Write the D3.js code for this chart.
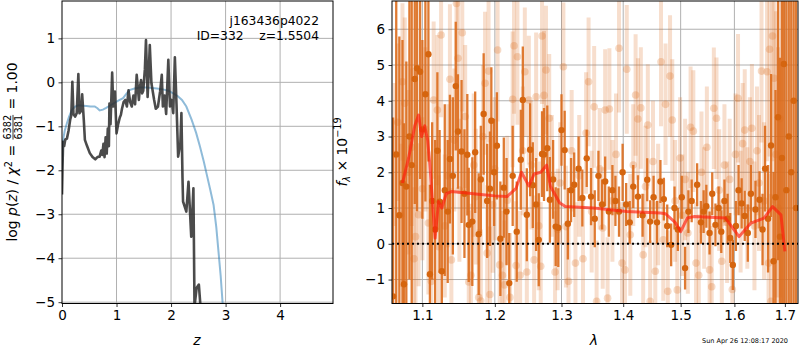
<!DOCTYPE html>
<html>
<head>
<meta charset="utf-8">
<script src="https://cdn.jsdelivr.net/npm/d3@7"></script>
<style>
  body { margin: 0; background: #fff; }
  text { font-family: "DejaVu Sans", sans-serif; }
</style>
</head>
<body>
<div id="chart"></div>
<script>
// p(z) panel data
var zGrid = [0.00, 0.01, 0.02, 0.04, 0.06, 0.09, 0.12, 0.15, 0.17, 0.19, 0.21, 0.24, 0.27, 0.30, 0.32, 0.35, 0.37, 0.40, 0.42, 0.46,
  0.51, 0.56, 0.61, 0.65, 0.69, 0.72, 0.74, 0.76, 0.78, 0.80, 0.82, 0.84, 0.86, 0.87, 0.89, 0.92, 0.94, 0.97, 1.00, 1.03,
  1.06, 1.08, 1.10, 1.13, 1.16, 1.19, 1.22, 1.25, 1.28, 1.31, 1.34, 1.37, 1.41, 1.43, 1.45, 1.47, 1.49, 1.52, 1.54, 1.57,
  1.59, 1.61, 1.64, 1.69, 1.72, 1.76, 1.80, 1.83, 1.85, 1.88, 1.91, 1.95, 1.98, 2.01, 2.04, 2.07, 2.10, 2.13, 2.17, 2.19,
  2.21, 2.22, 2.28, 2.32, 2.37, 2.41, 2.43, 2.47, 2.51, 2.54];
var logPz = [-2.55, -1.9, -1.35, -1.45, -1.30, -1.28, -1.10, -0.85, -0.75, 0.01, -0.72, -0.78, -0.70, 0.19, -0.70, -0.65, -0.27, -0.86, -1.31, -1.45,
  -1.61, -1.70, -1.75, -1.70, -1.69, -1.55, -1.65, -1.40, -1.70, -1.25, -1.62, -1.05, -1.45, -0.48, -0.95, 0.22, -0.55, -0.21, -1.16, -0.95,
  -0.80, -0.74, -0.60, -0.45, -0.40, -0.55, -0.18, -0.45, -0.55, -0.30, -0.50, 0.17, -0.40, -0.10, 0.05, -0.25, -0.19, 0.30, 0.96, -0.33,
  0.20, 0.85, -0.02, -0.40, -0.60, -0.55, -0.20, 0.17, -0.55, -0.30, -0.72, 0.51, -0.55, -0.40, -0.70, 0.57, -0.50, -1.69, -1.40, -0.70,
  -2.18, -2.71, -2.94, -2.26, -3.51, -2.41, -5.1, -4.67, -4.6, -5.1];

var zPrior = [0.00, 0.02, 0.05, 0.09, 0.13, 0.18, 0.24, 0.30, 0.38, 0.45, 0.52, 0.60, 0.65, 0.69, 0.75, 0.81, 0.88, 0.96, 1.04, 1.12,
  1.20, 1.25, 1.33, 1.43, 1.55, 1.65, 1.74, 1.85, 1.95, 2.04, 2.12, 2.20, 2.28, 2.38, 2.46, 2.53, 2.60, 2.65, 2.72, 2.78, 2.83, 2.87, 2.91, 2.95];
var logPrior = [-2.0, -1.31, -1.10, -0.93, -0.78, -0.63, -0.55, -0.52, -0.53, -0.54, -0.55, -0.55, -0.59, -0.64, -0.62, -0.58, -0.53, -0.47, -0.41, -0.36,
  -0.23, -0.17, -0.14, -0.12, -0.12, -0.13, -0.14, -0.16, -0.19, -0.25, -0.31, -0.40, -0.55, -0.86, -1.15, -1.46, -1.80, -2.07, -2.45, -2.79, -3.30, -3.85, -4.40, -5.1];

var pzXTicks = [0, 1, 2, 3, 4];
var pzYTicks = [-5, -4, -3, -2, -1, 0, 1];

// spectrum panel data
var waveBin = [1.062, 1.066, 1.070, 1.074, 1.076, 1.079, 1.083, 1.086, 1.090, 1.093, 1.097, 1.100, 1.104, 1.108, 1.110, 1.113, 1.117, 1.120, 1.123, 1.126,
  1.130, 1.134, 1.137, 1.141, 1.145, 1.148, 1.153, 1.157, 1.161, 1.163, 1.168, 1.172, 1.177, 1.180, 1.184, 1.189, 1.193, 1.195, 1.199, 1.203,
  1.208, 1.213, 1.217, 1.221, 1.226, 1.232, 1.238, 1.241, 1.247, 1.252, 1.256, 1.261, 1.265, 1.270, 1.273, 1.278, 1.282, 1.287, 1.291, 1.295,
  1.300, 1.305, 1.310, 1.315, 1.320, 1.327, 1.333, 1.340, 1.347, 1.353, 1.359, 1.365, 1.370, 1.376, 1.382, 1.387, 1.393, 1.399, 1.405, 1.411,
  1.417, 1.425, 1.433, 1.441, 1.446, 1.452, 1.458, 1.464, 1.470, 1.476, 1.483, 1.489, 1.495, 1.502, 1.508, 1.514, 1.520, 1.530, 1.537, 1.542,
  1.547, 1.553, 1.558, 1.564, 1.570, 1.575, 1.581, 1.587, 1.592, 1.597, 1.603, 1.608, 1.614, 1.620, 1.626, 1.632, 1.641, 1.649, 1.655, 1.660,
  1.666, 1.672, 1.677, 1.681, 1.686, 1.690, 1.694, 1.698, 1.703, 1.708, 1.713, 1.718, 1.723];
var fluxBin = [-1.47, 2.5, 0.8, 1.7, -1.13, 1.60, 3.0, 2.2, 4.61, 4.91, 4.81, 3.2, 4.18, 5.30, -0.85, 1.20, 0.4, 2.6, 1.18, -0.77,
  1.5, 0.9, 2.37, 1.9, 4.41, 3.14, 2.58, 1.4, 2.49, 0.53, 0.62, 2.56, 0.27, 1.8, 3.63, 1.2, 1.54, 3.44, 2.0, 2.74,
  0.14, 1.57, 0.90, -1.10, 1.9, 0.34, 2.35, 4.02, 0.81, 2.63, 1.64, 1.1, 0.11, 2.51, 2.5, 2.67, 1.23, 1.8, 0.48, 0.45,
  3.18, 2.62, 0.56, 1.5, 1.65, 2.1, 1.28, 2.39, 1.32, 0.7, 1.9, 1.1, 1.74, 0.9, 1.5, 1.2, 0.90, 2.0, 1.1, 0.6,
  1.6, 1.32, 0.8, 1.79, 0.62, 1.3, 0.6, 1.74, 1.25, 0.5, -0.03, 1.0, 0.4, 1.3, -0.68, 0.9, 1.2, 1.65, 0.6, 0.9,
  1.05, 0.3, 1.4, 0.53, 1.0, 0.34, 1.2, 0.7, 0.16, -0.59, 0.5, 1.5, 1.13, 0.78, 0.3, 1.4, 0.96, 1.23, 0.4, 2.1,
  0.7, 2.75, -0.49, 1.3, 3.54, 0.2, 2.4, 5.03, 1.5, 3.0, 2.0, 4.0, 1.0];
var errBin = [5.0, 6, 5, 4, 4.5, 3.5, 4, 5, 3.5, 4, 3, 2.5, 3, 3, 2.5, 2.2, 2.5, 2.2, 2, 2,
  2.4, 2, 1.8, 2.2, 1.8, 1.6, 2, 1.8, 1.7, 1.6, 1.8, 1.7, 1.7, 1.5, 1.7, 1.6, 1.6, 1.5, 1.5, 1.5,
  1.6, 1.4, 1.5, 1.4, 1.4, 1.4, 1.4, 1.5, 1.3, 1.3, 1.2, 1.3, 1.3, 1.2, 1.3, 1.2, 1.2, 1.1, 1.1, 1.1,
  1.0, 1.1, 1.0, 0.9, 0.9, 0.9, 0.8, 0.8, 0.8, 0.8, 0.7, 0.7, 0.7, 0.7, 0.7, 0.7, 0.7, 0.8, 0.6, 0.6,
  0.6, 0.6, 0.6, 0.6, 0.6, 0.6, 0.6, 0.6, 0.6, 0.6, 0.6, 0.6, 0.6, 0.6, 0.6, 0.6, 0.6, 0.6, 0.6, 0.6,
  0.6, 0.6, 0.6, 0.6, 0.6, 0.6, 0.6, 0.7, 0.7, 0.7, 0.7, 0.7, 0.7, 0.7, 0.8, 0.8, 0.8, 0.8, 1.0, 1.2,
  1.5, 2.0, 2.5, 3, 4, 5, 6, 7, 8, 9, 10, 10, 10];

var waveRaw = [1.064, 1.068, 1.072, 1.074, 1.077, 1.082, 1.086, 1.089, 1.091, 1.095, 1.100, 1.104, 1.108, 1.112, 1.115, 1.120, 1.122, 1.125, 1.130, 1.134,
  1.137, 1.139, 1.143, 1.146, 1.148, 1.150, 1.154, 1.158, 1.163, 1.166, 1.170, 1.173, 1.177, 1.180, 1.183, 1.186, 1.189, 1.191, 1.193, 1.197,
  1.200, 1.204, 1.207, 1.211, 1.214, 1.218, 1.222, 1.226, 1.228, 1.231, 1.233, 1.237, 1.241, 1.244, 1.247, 1.250, 1.254, 1.258, 1.261, 1.265,
  1.268, 1.270, 1.273, 1.276, 1.281, 1.285, 1.290, 1.294, 1.298, 1.303, 1.307, 1.311, 1.316, 1.322, 1.328, 1.334, 1.339, 1.343, 1.348, 1.352,
  1.356, 1.361, 1.366, 1.370, 1.374, 1.377, 1.382, 1.388, 1.393, 1.398, 1.403, 1.406, 1.412, 1.417, 1.421, 1.425, 1.430, 1.434, 1.438, 1.442,
  1.446, 1.451, 1.455, 1.460, 1.465, 1.469, 1.473, 1.477, 1.481, 1.485, 1.490, 1.494, 1.499, 1.503, 1.508, 1.513, 1.518, 1.523, 1.528, 1.533,
  1.538, 1.543, 1.548, 1.553, 1.557, 1.561, 1.566, 1.571, 1.576, 1.581, 1.586, 1.591, 1.596, 1.602, 1.607, 1.612, 1.616, 1.620, 1.625, 1.630,
  1.634, 1.639, 1.644, 1.648, 1.653, 1.658, 1.664, 1.667, 1.669, 1.672, 1.675, 1.678, 1.682, 1.686, 1.690];
var fluxRaw = [2.5, 3.4, 0.8, 4.53, 3.93, 2.0, 2.7, -0.42, 0.20, 0.81, 1.54, 3.2, 0.58, -1.05, 4.02, 3.74, -0.08, 5.84, 0.5, 1.9,
  4.60, -0.45, 2.9, 6.72, 5.19, 1.50, 5.90, 3.56, -1.07, -0.88, 2.2, 1.32, -1.50, -1.6, 3.0, 4.49, -0.26, 4.83, -1.42, 1.09,
  2.1, 5.42, -0.59, -0.88, -1.15, 1.22, -1.50, 4.04, 5.54, -0.61, 5.23, -0.88, 2.6, 4.81, -0.79, 4.02, 2.2, -0.45, 4.11, 0.5,
  -0.63, 5.81, 4.15, 4.86, 3.51, 1.9, -0.79, 0.4, 1.7, 4.95, 0.48, -1.05, 2.6, -0.54, 1.9, -0.42, 3.1, 4.53, 0.9, 3.83,
  -1.61, 2.1, 0.44, 3.74, -1.52, 3.77, 1.2, 2.5, 5.47, -0.54, -0.73, 4.88, 0.25, 2.2, 4.16, 3.49, 3.80, -0.31, 1.6, 3.32,
  -1.61, 2.3, -0.77, 1.1, 5.09, 0.11, 3.90, -1.33, 4.69, 3.46, 1.2, -1.29, 2.4, 0.8, 1.8, 0.30, 3.26, 3.15, -0.54, -0.88,
  2.0, 1.0, 2.7, -0.73, -1.2, 3.79, 3.51, 1.5, -0.49, 2.2, 0.6, 1.8, -1.28, 2.5, 4.07, 0.9, 2.8, 3.18, 1.0, 2.3,
  3.23, 0.5, 2.6, 1.7, 4.83, 1.2, 4.81, -0.54, 5.44, -1.61, 5.81, 4.63, 2.5, 1.0, 3.5];
var errRaw = [2.0, 2.2, 2, 2.2, 2.4, 2.3, 2.2, 2.0, 2, 2, 2, 2.3, 2, 2, 2.2, 2.1, 2, 2.3, 2, 2,
  2.1, 2, 2, 2.3, 2.0, 2, 2.2, 2, 2, 2, 2, 1.9, 1.9, 2, 2, 2, 1.9, 2, 1.9, 1.9,
  2, 2, 1.9, 1.8, 1.8, 1.8, 1.8, 1.9, 1.9, 1.8, 1.9, 1.8, 1.8, 1.8, 1.8, 1.8, 1.8, 1.8, 1.8, 1.8,
  1.8, 1.9, 1.8, 1.8, 1.8, 1.7, 1.7, 1.7, 1.7, 1.8, 1.7, 1.7, 1.7, 1.7, 1.7, 1.7, 1.7, 1.8, 1.7, 1.7,
  1.7, 1.7, 1.7, 1.7, 1.7, 1.7, 1.7, 1.7, 1.8, 1.7, 1.7, 1.8, 1.7, 1.7, 1.7, 1.7, 1.7, 1.7, 1.7, 1.7,
  1.7, 1.7, 1.7, 1.7, 1.8, 1.7, 1.7, 1.7, 1.7, 1.7, 1.7, 1.7, 1.7, 1.7, 1.7, 1.7, 1.7, 1.7, 1.7, 1.7,
  1.7, 1.7, 1.7, 1.7, 1.7, 1.7, 1.7, 1.7, 1.7, 1.7, 1.7, 1.7, 1.7, 1.7, 1.8, 1.7, 1.7, 1.7, 1.7, 1.8,
  1.8, 1.8, 1.8, 1.9, 2.0, 2.2, 2.5, 2.5, 3, 3, 3.5, 3.5, 4, 4.5, 5];

var waveModel = [1.074, 1.082, 1.090, 1.095, 1.099, 1.103, 1.107, 1.110, 1.114, 1.117, 1.1215, 1.126, 1.132, 1.139, 1.160, 1.180, 1.200, 1.2177, 1.231, 1.239,
  1.250, 1.258, 1.268, 1.277, 1.283, 1.297, 1.306, 1.351, 1.406, 1.464, 1.473, 1.490, 1.500, 1.512, 1.524, 1.583, 1.609, 1.632, 1.658, 1.675,
  1.692, 1.700];
var fluxModel = [1.70, 2.4, 3.3, 3.60, 3.0, 3.3, 2.9, 2.2, 1.0, 0.16, 1.18, 1.0, 1.4, 1.46, 1.42, 1.38, 1.34, 1.32, 1.55, 2.0,
  1.62, 1.95, 2.0, 2.2, 1.6, 1.15, 1.04, 1.0, 0.90, 0.86, 0.84, 0.6, 0.34, 0.72, 0.76, 0.72, 0.2, 0.58, 0.72, 1.04,
  0.81, -0.21];

var specXTicks = [1.1, 1.2, 1.3, 1.4, 1.5, 1.6, 1.7];
var specYTicks = [-1, 0, 1, 2, 3, 4, 5, 6];

var svg = d3.select("#chart").append("svg")
  .attr("width", 800)
  .attr("height", 350);

var yTop = 1, yBottom = 303.5;

// scales
var xZ = d3.scaleLinear().domain([0, 4.97]).range([62, 333]);
var yP = d3.scaleLinear().domain([-5.03, 1.85]).range([yBottom, yTop]);
var xW = d3.scaleLog().domain([1.0606, 1.727]).range([392, 798]);
var yF = d3.scaleLinear().domain([-1.67, 6.79]).range([yBottom, yTop]);

var defs = svg.append("defs");
defs.append("clipPath").attr("id", "clipL").append("rect")
  .attr("x", 62).attr("y", yTop).attr("width", 333 - 62).attr("height", yBottom - yTop);
defs.append("clipPath").attr("id", "clipR").append("rect")
  .attr("x", 392).attr("y", yTop).attr("width", 798 - 392).attr("height", yBottom - yTop);

function grid(g, xs, ys, xScale, yScale) {
  g.selectAll(".gx").data(xs).enter().append("line")
    .attr("x1", d => xScale(d)).attr("x2", d => xScale(d))
    .attr("y1", yTop).attr("y2", yBottom)
    .attr("stroke", "#b0b0b0").attr("stroke-width", 1);
  g.selectAll(".gy").data(ys).enter().append("line")
    .attr("x1", xScale.range()[0]).attr("x2", xScale.range()[1])
    .attr("y1", d => yScale(d)).attr("y2", d => yScale(d))
    .attr("stroke", "#b0b0b0").attr("stroke-width", 1);
}

function axes(xScale, yScale, xTicks, yTicks, xFmt, yFmt) {
  var ax = svg.append("g")
    .attr("transform", `translate(0, ${yBottom})`)
    .call(d3.axisBottom(xScale).tickValues(xTicks).tickFormat(xFmt).tickSizeInner(3.5).tickSizeOuter(0).tickPadding(3.5));
  var ay = svg.append("g")
    .attr("transform", `translate(${xScale.range()[0]}, 0)`)
    .call(d3.axisLeft(yScale).tickValues(yTicks).tickFormat(yFmt).tickSizeInner(3.5).tickSizeOuter(0).tickPadding(3.5));
  [ax, ay].forEach(function(a) {
    a.select(".domain").remove();
    a.selectAll("text").attr("font-size", "13.5px").attr("fill", "#000")
      .style("font-family", "DejaVu Sans");
    a.selectAll("line").attr("stroke", "#000").attr("stroke-width", 0.8);
  });
  svg.append("rect")
    .attr("x", xScale.range()[0]).attr("y", yTop)
    .attr("width", xScale.range()[1] - xScale.range()[0]).attr("height", yBottom - yTop)
    .attr("fill", "none").attr("stroke", "#000").attr("stroke-width", 1);
}

var minus = d => d3.format("")(d).replace("-", "\u2212");

// Left panel: p(z)
var left = svg.append("g");
grid(left, pzXTicks.slice(1), pzYTicks, xZ, yP);

var lineL = d3.line();
var plotL = left.append("g").attr("clip-path", "url(#clipL)");
plotL.append("path")
  .attr("d", lineL(zPrior.map((z, i) => [xZ(z), yP(logPrior[i])])))
  .attr("fill", "none").attr("stroke", "#1f77b4").attr("stroke-opacity", 0.5).attr("stroke-width", 2);
plotL.append("path")
  .attr("d", lineL(zGrid.map((z, i) => [xZ(z), yP(logPz[i])])))
  .attr("fill", "none").attr("stroke", "#2b2b2b").attr("stroke-opacity", 0.85)
  .attr("stroke-width", 2.6).attr("stroke-linejoin", "round");

axes(xZ, yP, pzXTicks, pzYTicks, minus, minus);

left.append("text").attr("x", 319).attr("y", 25).attr("text-anchor", "end")
  .attr("font-size", "12.3px").text("j163436p4022");
left.append("text").attr("x", 319).attr("y", 40).attr("text-anchor", "end")
  .attr("font-size", "12.3px").attr("xml:space", "preserve").text("ID=332    z=1.5504");

svg.append("text").attr("x", 197).attr("y", 345).attr("text-anchor", "middle")
  .attr("font-size", "14px").attr("font-style", "italic").text("z");

// y label with the chi2 fraction, rotated
var yl = svg.append("g").attr("transform", "translate(17, 152) rotate(-90)");
var part1 = yl.append("text").attr("font-size", "13.9px").attr("xml:space", "preserve");
part1.append("tspan").text("log ");
part1.append("tspan").attr("font-style", "italic").text("p");
part1.append("tspan").text("(");
part1.append("tspan").attr("font-style", "italic").text("z");
part1.append("tspan").text(") / ");
part1.append("tspan").attr("font-style", "italic").text("\u03c7");
part1.append("tspan").attr("font-size", "9.7px").attr("dy", -5).text("2");
part1.append("tspan").attr("dy", 5).text(" = ");
var w1 = part1.node().getComputedTextLength();
var num = yl.append("text").attr("font-size", "9.7px").attr("x", w1 + 1).attr("y", -6).text("6382");
var wf = num.node().getComputedTextLength();
yl.append("text").attr("font-size", "9.7px").attr("x", w1 + 1).attr("y", 4.5).text("6381");
yl.append("line").attr("x1", w1 + 1).attr("x2", w1 + 1 + wf).attr("y1", -4).attr("y2", -4)
  .attr("stroke", "#000").attr("stroke-width", 0.8);
var part3 = yl.append("text").attr("font-size", "13.9px").attr("x", w1 + wf + 2).attr("xml:space", "preserve").text(" = 1.00");
var wTot = w1 + wf + 2 + part3.node().getComputedTextLength();
yl.attr("transform", `translate(17, ${152 + wTot / 2}) rotate(-90)`);

// Right panel: spectrum
var right = svg.append("g");
grid(right, specXTicks, specYTicks, xW, yF);
var plotR = right.append("g").attr("clip-path", "url(#clipR)");

var orange = "#db6b1c";

// unbinned points, faint
plotR.selectAll(".eraw").data(waveRaw).enter().append("line")
  .attr("x1", d => xW(d)).attr("x2", d => xW(d))
  .attr("y1", (d, i) => yF(fluxRaw[i] - errRaw[i]))
  .attr("y2", (d, i) => yF(fluxRaw[i] + errRaw[i]))
  .attr("stroke", orange).attr("stroke-opacity", 0.22).attr("stroke-width", 4);
plotR.selectAll(".praw").data(waveRaw).enter().append("circle")
  .attr("cx", d => xW(d)).attr("cy", (d, i) => yF(fluxRaw[i]))
  .attr("r", 3.8).attr("fill", orange).attr("fill-opacity", 0.25);

// binned points
plotR.selectAll(".ebin").data(waveBin).enter().append("line")
  .attr("x1", d => xW(d)).attr("x2", d => xW(d))
  .attr("y1", (d, i) => yF(fluxBin[i] - errBin[i]))
  .attr("y2", (d, i) => yF(fluxBin[i] + errBin[i]))
  .attr("stroke", orange).attr("stroke-opacity", 0.9).attr("stroke-width", 2.3);
plotR.selectAll(".pbin").data(waveBin).enter().append("circle")
  .attr("cx", d => xW(d)).attr("cy", (d, i) => yF(fluxBin[i]))
  .attr("r", 3.2).attr("fill", "#d5650f");

// model
plotR.append("path")
  .attr("d", d3.line()(waveModel.map((w, i) => [xW(w), yF(fluxModel[i])])))
  .attr("fill", "none").attr("stroke", "#ff1a0a").attr("stroke-opacity", 0.65)
  .attr("stroke-width", 3).attr("stroke-linejoin", "round");

// zero line
plotR.append("line")
  .attr("x1", 392).attr("x2", 798).attr("y1", yF(0)).attr("y2", yF(0))
  .attr("stroke", "#000").attr("stroke-width", 2).attr("stroke-dasharray", "2,3");

axes(xW, yF, specXTicks, specYTicks, d3.format(".1f"), minus);

svg.append("text").attr("x", 594).attr("y", 345).attr("text-anchor", "middle")
  .attr("font-size", "14px").attr("font-style", "italic").text("\u03bb");

var yr = svg.append("text").attr("transform", "translate(347, 152) rotate(-90)")
  .attr("text-anchor", "middle").attr("font-size", "13.9px");
yr.append("tspan").attr("font-style", "italic").text("f");
yr.append("tspan").attr("font-size", "9.7px").attr("font-style", "italic").attr("dy", 3).text("\u03bb");
yr.append("tspan").attr("dy", -3).text(" \u00d7 10");
yr.append("tspan").attr("font-size", "9.7px").attr("dy", -6).text("\u221219");

svg.append("text").attr("x", 788).attr("y", 343).attr("text-anchor", "end")
  .attr("font-size", "6.5px").text("Sun Apr 26 12:08:17 2020");
</script>
</body>
</html>
